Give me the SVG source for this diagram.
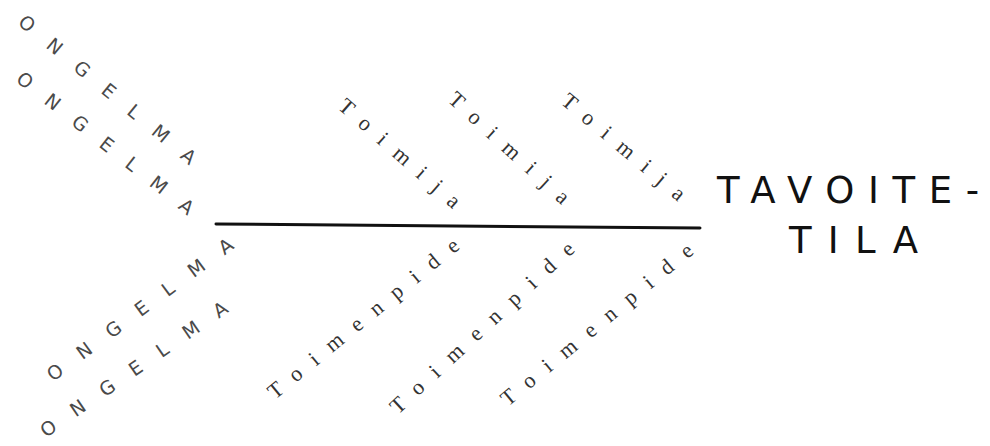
<svg xmlns="http://www.w3.org/2000/svg" width="990" height="446" viewBox="0 0 990 446">
<style>
.prob{font-family:"DejaVu Sans","Liberation Sans",sans-serif;font-size:19px;fill:#4a4a4a;}
.act{font-family:"Liberation Serif","DejaVu Serif",serif;font-size:22px;fill:#333;}
.goal{font-family:"DejaVu Sans","Liberation Sans",sans-serif;font-size:37px;fill:#111;}
.spine{stroke:#111;stroke-width:3;fill:none;stroke-linecap:round;}
</style>
<rect width="990" height="446" fill="#fff"/>
<g id="connectors">
<line class="spine" x1="216" y1="224" x2="700" y2="228"/>
</g>
<g id="ongelma-1"><text class="prob" transform="translate(17,24) rotate(39.4)" textLength="223" lengthAdjust="spacing">ONGELMA</text></g>
<g id="ongelma-2"><text class="prob" transform="translate(15,81) rotate(38)" textLength="219" lengthAdjust="spacing">ONGELMA</text></g>
<g id="ongelma-3"><text class="prob" transform="translate(53,382) rotate(-36.4)" textLength="226" lengthAdjust="spacing">ONGELMA</text></g>
<g id="ongelma-4"><text class="prob" transform="translate(46,438) rotate(-34.6)" textLength="223" lengthAdjust="spacing">ONGELMA</text></g>
<g id="toimija-1"><text class="act" transform="translate(337,108) rotate(41.2)" textLength="154" lengthAdjust="spacing">Toimija</text></g>
<g id="toimija-2"><text class="act" transform="translate(447,101) rotate(42.3)" textLength="155" lengthAdjust="spacing">Toimija</text></g>
<g id="toimija-3"><text class="act" transform="translate(560,103) rotate(40)" textLength="154" lengthAdjust="spacing">Toimija</text></g>
<g id="toimenpide-1"><text class="act" transform="translate(275,400) rotate(-39.3)" textLength="240" lengthAdjust="spacing">Toimenpide</text></g>
<g id="toimenpide-2"><text class="act" transform="translate(398,415) rotate(-42.7)" textLength="242" lengthAdjust="spacing">Toimenpide</text></g>
<g id="toimenpide-3"><text class="act" transform="translate(508,407) rotate(-39.5)" textLength="242" lengthAdjust="spacing">Toimenpide</text></g>
<g id="tavoitetila">
<text class="goal" x="717" y="203" textLength="262" lengthAdjust="spacing">TAVOITE-</text>
<text class="goal" x="789" y="253" textLength="129" lengthAdjust="spacing">TILA</text>
</g>
</svg>
